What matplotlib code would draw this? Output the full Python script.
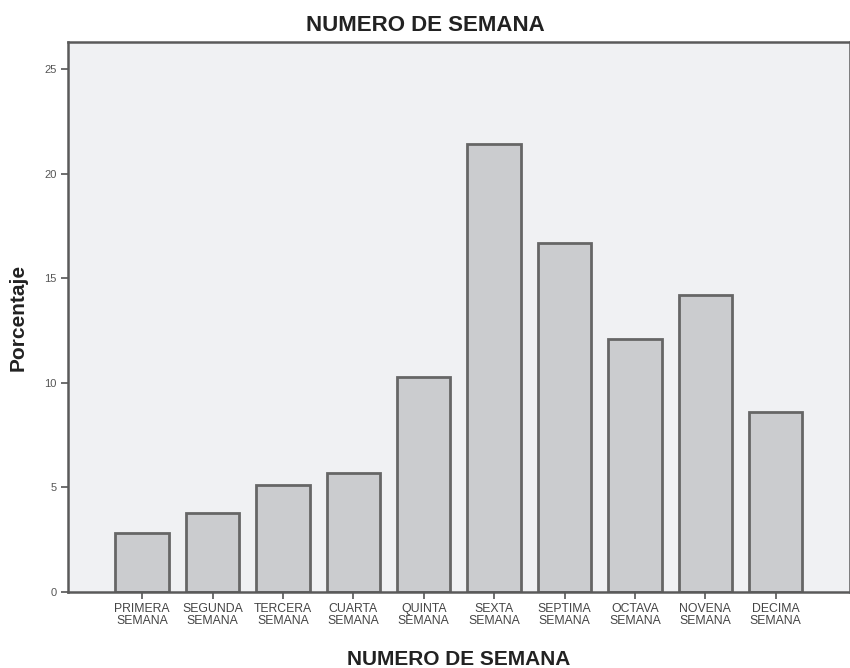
import matplotlib
matplotlib.use("Agg")
import matplotlib.pyplot as plt

categories = ["PRIMERA\nSEMANA", "SEGUNDA\nSEMANA", "TERCERA\nSEMANA", "CUARTA\nSEMANA",
              "QUINTA\nSEMANA", "SEXTA\nSEMANA", "SEPTIMA\nSEMANA", "OCTAVA\nSEMANA",
              "NOVENA\nSEMANA", "DECIMA\nSEMANA"]
porcentaje = [2.8, 3.8, 5.1, 5.7, 10.3, 21.4, 16.7, 12.1, 14.2, 8.6]
yticks = [0, 5, 10, 15, 20, 25]

plt.rcParams['font.family'] = ['Liberation Sans', 'DejaVu Sans']

fig = plt.figure(figsize=(8.5, 6.68), dpi=100)
ax = fig.add_axes([0.08, 0.1138, 0.92, 0.8233])
ax.set_facecolor('#f0f1f3')

x = list(range(len(categories)))
ax.bar(x, porcentaje, width=0.76, color='#cbcccf', edgecolor='#666666', linewidth=2.0, zorder=2)

ax.set_xlim(-1.054, 10.056)
ax.set_ylim(0, 26.3)
ax.set_yticks(yticks)
ax.set_yticklabels([str(v) for v in yticks], fontsize=8, color='#555555')
ax.set_xticks(x)
ax.set_xticklabels(categories, fontsize=8.8, color='#444444', linespacing=0.95)
ax.tick_params(axis='both', direction='out', length=5, width=1.2, color='#555555', pad=3)

for s in ax.spines.values():
    s.set_color('#5a5a5a')
    s.set_linewidth(1.8)

ax.set_title('NUMERO DE SEMANA', fontsize=16, fontweight='bold', color='#222222', pad=8, x=0.4565)
ax.set_xlabel('NUMERO DE SEMANA', fontsize=15, fontweight='bold', color='#222222', labelpad=17)
ax.set_ylabel('Porcentaje', fontsize=15, fontweight='bold', color='#222222')
ax.yaxis.set_label_coords(-0.052, 0.5)

fig.savefig('out.png', dpi=100, facecolor='white')
